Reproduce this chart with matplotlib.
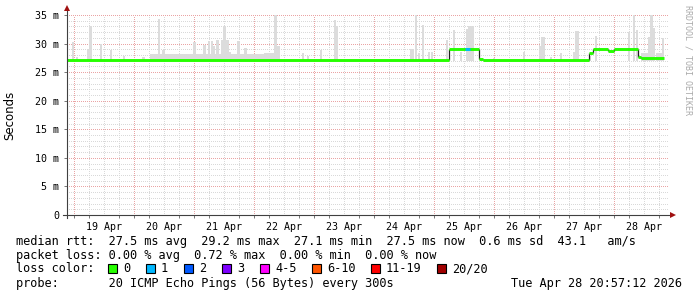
import matplotlib
matplotlib.use("Agg")
import matplotlib.pyplot as plt
from matplotlib.patches import Rectangle

W, H = 697, 297
MONO = "DejaVu Sans Mono"

# time axis in hours since 19 Apr 00:00
day_labels = ["19 Apr", "20 Apr", "21 Apr", "22 Apr", "23 Apr",
              "24 Apr", "25 Apr", "26 Apr", "27 Apr", "28 Apr"]

# median rtt (ms), one value per step segment
median_t = [-2.6, 150.0, 162.0, 163.5, 206.0, 207.4, 213.4, 216.0, 225.4, 226.7, 236.0]
median_v = [27.15, 29.1, 27.35, 27.15, 28.4, 29.1, 28.75, 29.1, 27.6, 27.4]
loss1_t = [156.3, 158.3]   # median segment with 1 lost ping

# smoke spikes: time (h) and top (ms)
spike_t = [-0.3, 1.5, 5.9, 6.5, 7.1, 10.9, 14.9, 20.3, 27.9, 34.0, 35.9,
           48.3, 52.3, 54.2, 55.2, 55.9, 57.5, 59.5, 60.3, 61.5, 62.3, 65.9,
           68.7, 69.9, 80.7, 81.9, 91.5, 93.5, 98.7, 104.3, 105.1,
           134.7, 135.5, 136.7, 137.9, 139.5, 142.1, 143.3, 149.1, 151.9, 154.7,
           157.1, 157.9, 158.7, 159.5, 167.9, 179.9, 186.5, 187.1, 187.7,
           190.7, 194.7, 200.1, 200.7, 201.3, 206.3, 208.7,
           221.9, 223.9, 225.1, 229.9, 230.5, 231.1, 231.9, 235.5]
spike_top = [30.2, 27.6, 29.0, 33.1, 33.1, 30.0, 28.9, 27.9, 27.6, 34.3, 28.9,
             30.2, 29.8, 30.5, 30.5, 29.5, 30.6, 30.7, 33.1, 30.7, 28.6, 30.5,
             29.2, 28.1, 35.0, 29.5, 28.4, 27.9, 28.8, 34.2, 33.1,
             29.0, 29.0, 35.0, 28.3, 33.2, 28.6, 28.6, 30.6, 32.4, 28.6,
             32.6, 33.1, 33.1, 33.1, 27.4, 28.6, 29.5, 31.1, 31.1,
             27.6, 28.3, 28.6, 32.2, 32.2, 27.9, 31.3,
             32.1, 35.0, 32.4, 31.2, 35.0, 35.0, 32.7, 30.9]

# low smoke bands just above the median
band_t0 = [30.7, 48.0, 76.0, 226.7, 232.5]
band_t1 = [48.0, 76.0, 81.5, 229.5, 235.5]
band_top = [28.2, 28.2, 28.3, 28.3, 28.3]

loss_labels = ["0", "1", "2", "3", "4-5", "6-10", "11-19", "20/20"]
loss_colors = ["#26ff00", "#00b8ff", "#0059ff", "#7e00ff", "#ff00ff",
               "#ff5500", "#ff0000", "#a10000"]

x0, x1 = -2.6, 237.4
ymax = 35

fig = plt.figure(figsize=(W / 100, H / 100), dpi=100)
fig.patch.set_facecolor("white")
ax = fig.add_axes([67 / W, 1 - 215 / H, (668 - 67) / W, 200 / H])
ax.set_xlim(x0, x1)
ax.set_ylim(0, ymax)
for s in ax.spines.values():
    s.set_visible(False)

# grid, dotted like rrdtool
minor_col = "#d9d9d9"
major_col = "#eaa4a4"
dots = (0, (1, 2))
hrs = [h for h in range(0, 240, 6) if x0 < h < x1]
grid_kw = dict(lw=0.72, linestyles=dots, zorder=0, antialiased=False)
ax.hlines([v for v in range(1, ymax + 1) if v % 5], x0, x1, colors=minor_col, **grid_kw)
ax.vlines([h for h in hrs if h % 24], 0, ymax, colors=minor_col, **grid_kw)
ax.hlines(range(5, ymax + 1, 5), x0, x1, colors=major_col, **grid_kw)
ax.vlines([h for h in hrs if h % 24 == 0], 0, ymax, colors=major_col, **grid_kw)

# smoke
ax.bar(band_t0, [t - 27.0 for t in band_top], bottom=27.0,
       width=[b - a for a, b in zip(band_t0, band_t1)], align="edge",
       color="#dcdcdc", linewidth=0, zorder=1)
ax.bar(spike_t, [t - 27.0 for t in spike_top], bottom=27.0, width=0.9,
       color="#dcdcdc", linewidth=0, zorder=1)

# median
ax.vlines(median_t[1:-1], median_v[:-1], median_v[1:], colors="#202020",
          lw=0.9, zorder=2)
ax.hlines(median_v, median_t[:-1], median_t[1:], colors=loss_colors[0],
          lw=2.1, zorder=3)
ax.hlines([29.1], loss1_t[0], loss1_t[1], colors=loss_colors[1], lw=2.1, zorder=4)

# axes lines with arrows
ax.plot([-4 / 601, 1 + 4 / 601], [0, 0], color="#404040", lw=0.8,
        transform=ax.transAxes, clip_on=False, zorder=5)
ax.plot([0, 0], [-3 / 200, 1 + 6 / 200], color="#404040", lw=0.8,
        transform=ax.transAxes, clip_on=False, zorder=5)
ax.plot([1 + 5 / 601], [0], marker=">", ms=4, color="#a01010", mew=0,
        transform=ax.transAxes, clip_on=False, zorder=6)
ax.plot([0], [1 + 7 / 200], marker="^", ms=4, color="#a01010", mew=0,
        transform=ax.transAxes, clip_on=False, zorder=6)

# ticks
ax.set_yticks(range(0, ymax + 1, 5))
ax.set_yticklabels(["0" if v == 0 else "%d m" % v for v in range(0, ymax + 1, 5)],
                   family=MONO, fontsize=7.2)
ax.set_xticks([12 + 24 * i for i in range(len(day_labels))])
ax.set_xticklabels(day_labels, family=MONO, fontsize=7.2)
ax.set_xticks(hrs, minor=True)
ax.tick_params(axis="x", which="major", length=0, pad=5)
ax.tick_params(axis="x", which="minor", length=2.5, width=0.6, color="#606060")
ax.tick_params(axis="y", length=2.5, width=0.6, color="#606060", pad=3)

fig.text(10 / W, 1 - 115 / H, "Seconds", rotation=90, ha="center", va="center",
         fontsize=8.5, family="DejaVu Sans")
fig.text(688 / W, 1 - 5 / H, "RRDTOOL / TOBI OETIKER", rotation=270, ha="center",
         va="top", fontsize=6, family=MONO, color="#aaaaaa")

# legend rows
FS = 8.55
def row(y, s):
    fig.text(16 / W, 1 - y / H, s, family=MONO, fontsize=FS, va="center", ha="left")

row(241, "median rtt:  27.5 ms avg  29.2 ms max  27.1 ms min  27.5 ms now  0.6 ms sd  43.1   am/s")
row(255, "packet loss: 0.00 % avg  0.72 % max  0.00 % min  0.00 % now")
row(269, "loss color:")
row(283, "probe:       20 ICMP Echo Pings (56 Bytes) every 300s")
fig.text(682 / W, 1 - 283 / H, "Tue Apr 28 20:57:12 2026", family=MONO,
         fontsize=FS, va="center", ha="right")

bx = 108
for lab, col in zip(loss_labels, loss_colors):
    fig.patches.append(Rectangle((bx / W, 1 - 273 / H), 9 / W, 9 / H,
                                 facecolor=col, edgecolor="black", lw=0.8,
                                 transform=fig.transFigure, figure=fig))
    fig.text((bx + 15) / W, 1 - 269 / H, lab, family=MONO, fontsize=FS,
             va="center", ha="left")
    bx = bx + 31 + 7 * len(lab)

fig.savefig("out.png", dpi=100)
